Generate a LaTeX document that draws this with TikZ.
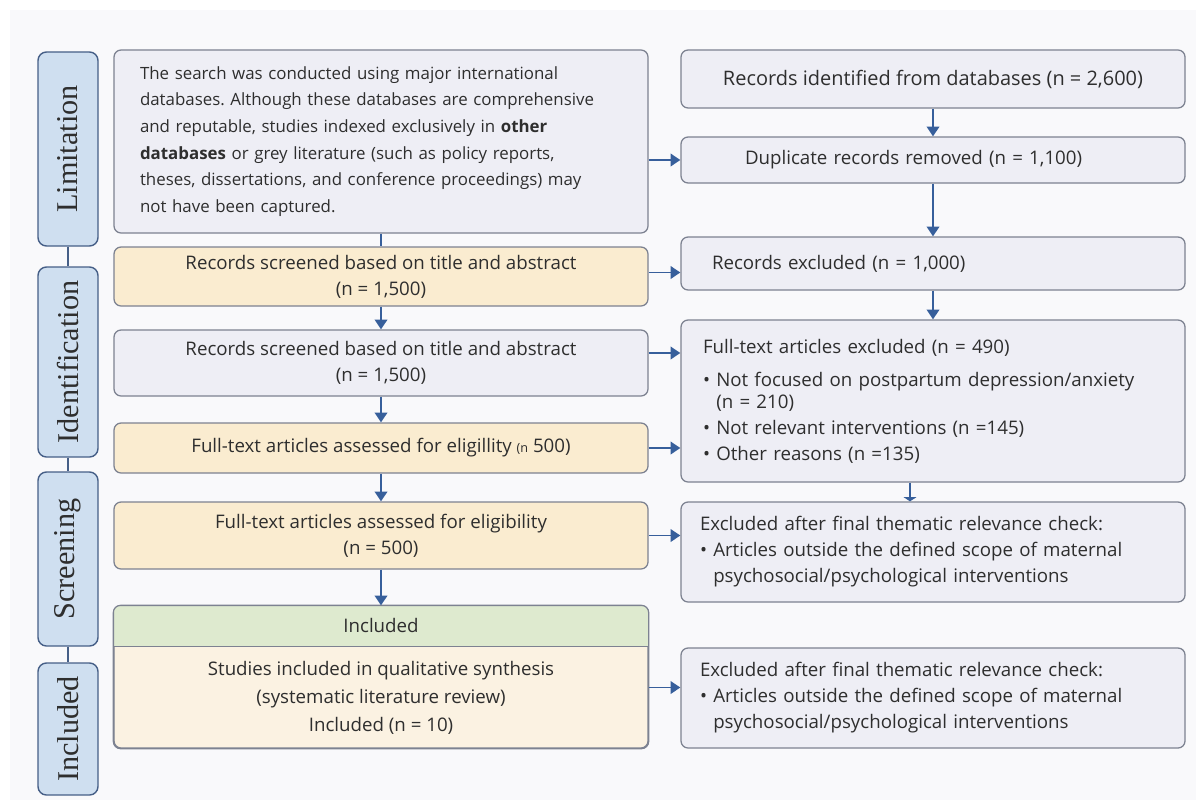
\documentclass[tikz,border=0pt]{standalone}
\usepackage{fontspec}
\setmainfont{Open Sans}
\newfontfamily\labelfont{Liberation Serif}
\usetikzlibrary{arrows.meta,positioning}
\frenchspacing

\definecolor{boxgray}{RGB}{238,238,245}
\definecolor{boxline}{RGB}{125,130,145}
\definecolor{boxyel}{RGB}{250,236,208}
\definecolor{boxgreen}{RGB}{222,234,207}
\definecolor{boxcream}{RGB}{251,242,226}
\definecolor{sideblue}{RGB}{207,223,240}
\definecolor{sideline}{RGB}{70,95,135}
\definecolor{arrowblue}{RGB}{55,95,155}
\definecolor{pagebg}{RGB}{249,249,251}

\begin{document}
\begin{tikzpicture}[font=\fontsize{13.3}{18.5}\selectfont, text=black!82,
    box/.style={draw=boxline, line width=0.9pt, rounded corners=5pt, fill=boxgray, align=center, inner sep=0pt},
    yelbox/.style={box, fill=boxyel},
    sidebox/.style={draw=sideline, line width=1pt, rounded corners=6pt, fill=sideblue, minimum height=1.5cm, inner sep=0pt, rotate=90, font=\labelfont\fontsize{21.5}{21.5}\selectfont},
    flow/.style={draw=arrowblue, line width=1.3pt, -{Triangle[width=9pt,length=7pt]}},
    link/.style={draw=sideline, line width=1pt}]
  \useasboundingbox (0,0) rectangle (30,-20.15);
  \fill[pagebg] (0.25,-0.25) rectangle (29.9,-20.0);

  % stage labels
  \node[sidebox, minimum width=4.85cm] (sideLim) at (1.7,-3.725)  {Limitation};
  \node[sidebox, minimum width=4.75cm] (sideId)  at (1.7,-9.05)   {Identification};
  \node[sidebox, minimum width=4.35cm] (sideScr) at (1.7,-13.975) {Screening};
  \node[sidebox, minimum width=3.3cm]  (sideInc) at (1.7,-18.225) {Included};
  \draw[link] (sideLim) -- (sideId);
  \draw[link] (sideId) -- (sideScr);
  \draw[link] (sideScr) -- (sideInc);

  % left column
  \node[box, minimum width=13.35cm, minimum height=4.575cm, text width=12.05cm, align=left, font=\fontsize{12}{19}\selectfont] (limTxt) at (9.525,-3.5375)
    {The search was conducted using major international\\
     databases. Although these databases are comprehensive\\
     and reputable, studies indexed exclusively in \textbf{other}\\
     \textbf{databases} or grey literature (such as policy reports,\\
     theses, dissertations, and conference proceedings) may\\
     not have been captured.};
  \node[yelbox, minimum width=13.35cm, minimum height=1.475cm] (scrA) at (9.525,-6.9125)
    {Records screened based on title and abstract\\(n = 1,500)};
  \node[box, minimum width=13.35cm, minimum height=1.65cm] (scrB) at (9.525,-9.075)
    {Records screened based on title and abstract\\(n = 1,500)};
  \node[yelbox, minimum width=13.35cm, minimum height=1.25cm] (fullA) at (9.525,-11.2)
    {Full-text articles assessed for eligillity {\small(n} 500)};
  \node[yelbox, minimum width=13.35cm, minimum height=1.675cm] (fullB) at (9.525,-13.3875)
    {Full-text articles assessed for eligibility\\(n = 500)};
  \node[box, fill=boxcream, minimum width=13.35cm, minimum height=3.55cm] (incBox) at (9.525,-16.925) {};
  \begin{scope}
    \clip[rounded corners=5pt] (incBox.north west) rectangle (incBox.south east);
    \fill[boxgreen] (incBox.north west) rectangle ([yshift=-1.025cm]incBox.north east);
  \end{scope}
  \draw[boxline, line width=0.9pt] ([yshift=-1.025cm]incBox.north west) -- ([yshift=-1.025cm]incBox.north east);
  \draw[boxline, line width=0.9pt, rounded corners=5pt] (incBox.north west) rectangle (incBox.south east);
  \node (incHead) at ([yshift=-0.5125cm]incBox.north) {Included};
  \node[align=center, font=\fontsize{13.3}{20}\selectfont] (incBody) at (9.525,-17.4375)
    {Studies included in qualitative synthesis\\(systematic literature review)\\Included (n = 10)};

  % right column
  \node[box, minimum width=12.6cm, minimum height=1.45cm, font=\fontsize{14.2}{18}\selectfont] (idDb) at (23.325,-1.975)
    {Records identified from databases (n = 2,600)};
  \node[box, minimum width=12.6cm, minimum height=1.15cm, text width=9.4cm, align=left] (dupRm) at (23.325,-4.0)
    {Duplicate records removed (n = 1,100)};
  \node[box, minimum width=12.6cm, minimum height=1.325cm, text width=11.05cm, align=left] (recEx) at (23.325,-6.5875)
    {Records excluded (n = 1,000)};
  \node[box, minimum width=12.6cm, minimum height=4.05cm, text width=11.5cm, align=left] (fullEx) at (23.325,-10.025)
    {Full-text articles excluded (n = 490)\\[5pt]
     \textbullet\ Not focused on postpartum depression/anxiety\\[-3pt]
     \phantom{\textbullet\ }(n = 210)\\
     \textbullet\ Not relevant interventions (n =145)\\
     \textbullet\ Other reasons (n =135)};
  \node[box, minimum width=12.6cm, minimum height=2.5cm, text width=11.65cm, align=left] (thEx) at (23.325,-13.8)
    {Excluded after final thematic relevance check:\\
     \textbullet\ Articles outside the defined scope of maternal\\
     \phantom{\textbullet\ }psychosocial/psychological interventions};
  \node[box, minimum width=12.6cm, minimum height=2.5cm, text width=11.65cm, align=left] (thExB) at (23.325,-17.45)
    {Excluded after final thematic relevance check:\\
     \textbullet\ Articles outside the defined scope of maternal\\
     \phantom{\textbullet\ }psychosocial/psychological interventions};

  % connectors
  \draw[arrowblue, line width=1.3pt] (limTxt) -- (scrA);
  \draw[flow] (scrA) -- (scrB);
  \draw[flow] (scrB) -- (fullA);
  \draw[flow] (fullA) -- (fullB);
  \draw[flow] (fullB) -- (incBox);
  \draw[flow] (idDb) -- (dupRm);
  \draw[flow] (dupRm) -- (recEx);
  \draw[flow] (recEx) -- (fullEx);
  \draw[draw=arrowblue, line width=1.3pt, -{Triangle[width=9pt,length=3pt]}] ([xshift=-0.575cm]fullEx.south) -- ([xshift=-0.575cm]thEx.north);
  \draw[flow] (limTxt.east |- dupRm) -- (dupRm.west);
  \draw[flow] ([yshift=0.1cm]scrA.east) -- ([yshift=0.1cm]scrA.east -| recEx.west);
  \draw[flow] ([yshift=0.25cm]scrB.east) -- ([yshift=0.25cm]scrB.east -| fullEx.west);
  \draw[flow] (fullA.east) -- (fullA.east -| fullEx.west);
  \draw[flow] (fullB.east) -- (fullB.east -| thEx.west);
  \draw[flow] ([yshift=0.25cm]incBody.east -| incBox.east) -- ([yshift=0.25cm]incBody.east -| thExB.west);
\end{tikzpicture}
\end{document}
